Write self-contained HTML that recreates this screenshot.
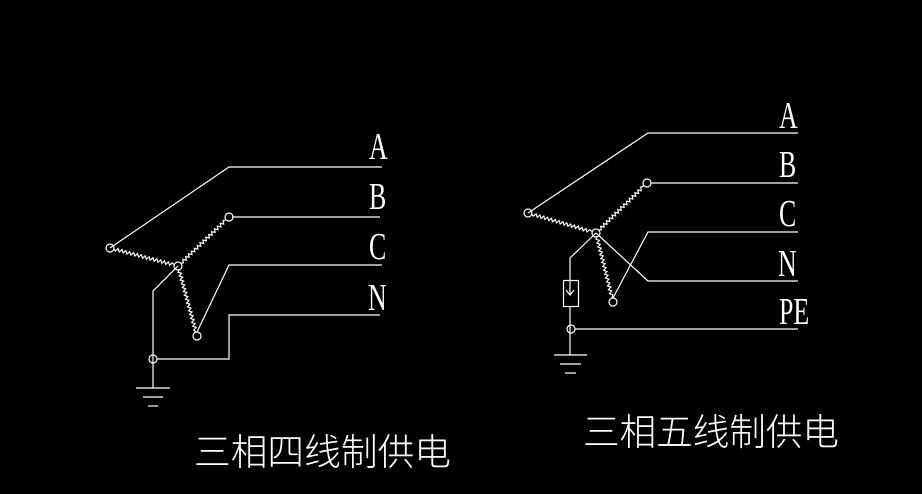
<!DOCTYPE html>
<html><head><meta charset="utf-8"><style>
html,body{margin:0;padding:0;background:#000;}
svg{display:block}
.l{font-family:"Liberation Serif",serif;font-size:38px;fill:#fff}
.t{font-family:"Liberation Sans","Noto Sans CJK SC",sans-serif;font-size:37px;font-weight:300;fill:#fff}
</style></head><body>
<svg id="s" width="922" height="494" viewBox="0 0 922 494" xmlns="http://www.w3.org/2000/svg">
<rect width="922" height="494" fill="#000"/>
<g stroke="#fff" stroke-width="1.2" fill="none">
<polyline points="110,248 229,167 382,167"/>
<line x1="232" y1="217" x2="380" y2="217"/>
<polyline points="197,332 229,265 382,265"/>
<polyline points="157,359 229,359 229,315 380,315"/>
<polyline points="178,266 153,291 153,388"/>
<line x1="136" y1="388" x2="170" y2="388"/>
<line x1="143" y1="397" x2="163" y2="397"/>
<line x1="148" y1="406" x2="158" y2="406"/>
<circle cx="110" cy="248" r="4"/>
<circle cx="178" cy="266" r="4"/>
<circle cx="229" cy="217" r="4"/>
<circle cx="197" cy="336" r="4"/>
<circle cx="153" cy="359" r="4"/>
<polyline points="528,213 648,133 798,133"/>
<line x1="651" y1="183" x2="798" y2="183"/>
<polyline points="613,298 648,232 798,232"/>
<polyline points="596,233 648,281 798,281"/>
<line x1="575" y1="329" x2="798" y2="329"/>
<polyline points="596,233 570,258 570,280"/>
<rect x="563.5" y="280.5" width="15" height="26"/>
<line x1="570" y1="306" x2="570" y2="355"/>
<line x1="570" y1="281" x2="570" y2="295"/>
<polyline points="566,290 570,295 574,290"/>
<line x1="554" y1="355" x2="587" y2="355"/>
<line x1="560" y1="364" x2="581" y2="364"/>
<line x1="565" y1="373" x2="576" y2="373"/>
<circle cx="528" cy="213" r="4"/>
<circle cx="596" cy="233" r="4"/>
<circle cx="647" cy="183" r="4"/>
<circle cx="613" cy="302" r="4"/>
<circle cx="571" cy="329" r="4"/>
<g id="coils"></g>
</g>
<g class="l">
<text transform="translate(369,159) scale(0.68,1)">A</text>
<text transform="translate(369,209) scale(0.68,1)">B</text>
<text transform="translate(369,259) scale(0.68,1)">C</text>
<text transform="translate(368,310) scale(0.68,1)">N</text>
<text transform="translate(779,128) scale(0.68,1)">A</text>
<text transform="translate(779,177) scale(0.68,1)">B</text>
<text transform="translate(779,226) scale(0.68,1)">C</text>
<text transform="translate(778,276) scale(0.68,1)">N</text>
<text transform="translate(779,324) scale(0.68,1)">PE</text>
</g>
<text class="t" x="194" y="465" textLength="257" lengthAdjust="spacingAndGlyphs">三相四线制供电</text>
<text class="t" x="583" y="445" textLength="256" lengthAdjust="spacingAndGlyphs">三相五线制供电</text>
</svg>
<script>
(function(){
var g=document.getElementById('coils');
function coil(x1,y1,x2,y2){
  var dx=x2-x1,dy=y2-y1,L=Math.sqrt(dx*dx+dy*dy),ux=dx/L,uy=dy/L,nx=-uy,ny=ux;
  var pts=[],n=Math.floor((L-8)/2),s=4;
  pts.push((x1+ux*s)+','+(y1+uy*s));
  for(var i=1;i<n;i++){var t=s+i*2,a=(i%2?1.5:-1.5);pts.push((x1+ux*t+nx*a).toFixed(1)+','+(y1+uy*t+ny*a).toFixed(1));}
  pts.push((x2-ux*s)+','+(y2-uy*s));
  var p=document.createElementNS('http://www.w3.org/2000/svg','polyline');
  p.setAttribute('points',pts.join(' '));g.appendChild(p);
}
coil(110,248,178,266);coil(178,266,229,217);coil(178,266,197,336);
coil(528,213,596,233);coil(596,233,647,183);coil(596,233,613,302);
})();
</script>
</body></html>
